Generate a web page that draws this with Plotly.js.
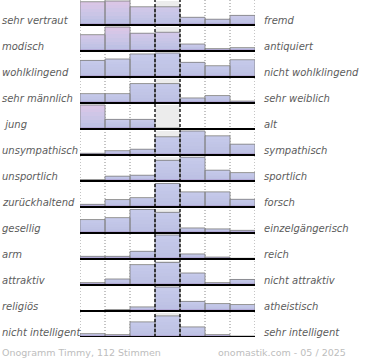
<!DOCTYPE html>
<html><head><meta charset="utf-8">
<script src="https://cdn.plot.ly/plotly-3.0.1.min.js"></script>
<style>html,body{margin:0;padding:0;background:#fff}#chart{width:370px;height:360px}</style>
</head><body><div id="chart"></div>
<script>
// scale positions (7 columns)
const columns = [0, 1, 2, 3, 4, 5, 6];
const leftLabels = ["sehr vertraut","modisch","wohlklingend","sehr männlich","\u00a0jung","unsympathisch","unsportlich","zurückhaltend","gesellig","arm","attraktiv","religiös","nicht intelligent"];
const rightLabels = ["fremd","antiquiert","nicht wohlklingend","sehr weiblich","alt","sympathisch","sportlich","forsch","einzelgängerisch","reich","nicht attraktiv","atheistisch","sehr intelligent"];
// bar heights, percent of the row box
const sehrVertraut     = [97,100,76,76,32,24,40];
const modisch          = [68,100,74,78,29,10,14];
const wohlklingend     = [69,75,96,100,61,47,72];
const sehrMaennlich    = [39,39,81,81,21,31,8];
const jung             = [100,40,40,4,0,0,0];
const unsympathisch    = [7,18,24,76,100,80,45];
const unsportlich      = [6,20,24,86,99,45,35];
const zurueckhaltend   = [11,31,39,98,63,63,32];
const gesellig         = [56,64,98,86,21,17,11];
const arm              = [11,11,32,100,21,8,3];
const attraktiv        = [10,25,85,94,50,10,23];
const religioes        = [0,6,17,100,40,31,27];
const nichtIntelligent = [14,10,63,88,42,10,4];
const rows = [sehrVertraut,modisch,wohlklingend,sehrMaennlich,jung,unsympathisch,unsportlich,zurueckhaltend,gesellig,arm,attraktiv,religioes,nichtIntelligent];
const footerLeft = "Onogramm Timmy, 112 Stimmen";
const footerRight = "onomastik.com - 05 / 2025";

// styling: pink tint of the bar tops
const pinkTint = [
 [1,1,0.6,0.5,0.2,0.1,0.2],
 [0.7,1,0.6,0.6,0.2,0.1,0.1],
 [0,0,0,0,0,0,0],[0,0,0,0,0,0,0],
 [1,0.1,0.1,0,0,0,0],
 [0,0,0,0,0,0,0],[0,0,0,0,0,0,0],[0,0,0,0,0,0,0],[0,0,0,0,0,0,0],
 [0,0,0,0,0,0,0],[0,0,0,0,0,0,0],[0,0,0,0,0,0,0],[0,0,0,0,0,0,0]];

const ROW = 26, BOX = 24, N = rows.length;
const unit = BOX / ROW / 100;
const xs = [], bases = [], hs = [], tints = [];
rows.forEach((vals, k) => {
  const base = N - 1 - k;
  vals.forEach((v, c) => { xs.push(columns[c]); bases.push(base); hs.push(v * unit); tints.push(pinkTint[k][c]); });
});

function hexToArr(h) { return h.match(/\w\w/g).map(x => parseInt(x, 16)); }
function mixArr(a, b, t) { return a.map((v, i) => Math.round(v + (b[i] - v) * t)); }
const blueLo = hexToArr('bcc0e3'), blueHi = hexToArr('c7cbeb'), pink = hexToArr('dcc5e6');
const traces = [];
const s1 = 1 / ROW;
// bottom strips
[['#9f92c4', 0], ['#b2a9d6', 1]].forEach(([col, j]) => {
  traces.push({type: 'bar', x: xs, width: 1, base: bases.map((b, i) => b + Math.min(hs[i], j * s1)),
    y: hs.map(h => Math.max(0, Math.min(h - j * s1, s1))), marker: {color: col, line: {width: 0}}, hoverinfo: 'skip'});
});
const NB = 6;
for (let j = 0; j < NB; j++) {
  const f = (j + 0.5) / NB;
  const body = mixArr(blueLo, blueHi, f);
  traces.push({type: 'bar', x: xs, width: 1,
    base: bases.map((b, i) => { const r = Math.max(0, hs[i] - 2 * s1); return b + Math.min(hs[i], 2 * s1) + r * j / NB; }),
    y: hs.map(h => Math.max(0, h - 2 * s1) / NB),
    marker: {color: tints.map(t => 'rgb(' + mixArr(body, pink, t * Math.pow(f, 1.3)).join(',') + ')'), line: {width: 0}},
    hoverinfo: 'skip'});
}
// outlines
traces.push({type: 'bar', x: xs, width: 1, base: bases, y: hs, marker: {color: 'rgba(0,0,0,0)', line: {width: 1, color: 'rgba(130,130,130,0.85)'}}, hoverinfo: 'skip'});

const shapes = [];
for (let k = 0; k < N; k++) {
  const base = N - 1 - k;
  shapes.push({type: 'rect', xref: 'x', yref: 'y', x0: 2.5, x1: 3.5, y0: base, y1: base + BOX / ROW, fillcolor: '#ececec', line: {width: 0}, layer: 'below'});
}
[-0.5, 0.5, 1.5, 4.5, 5.5, 6.5].forEach(x => shapes.push({type: 'line', xref: 'x', yref: 'paper', x0: x, x1: x, y0: 0, y1: 1, line: {color: '#8a8a8a', width: 1, dash: '1px,2px'}, layer: 'below'}));
[2.5, 3.5].forEach(x => shapes.push({type: 'line', xref: 'x', yref: 'paper', x0: x, x1: x, y0: 0, y1: 1, line: {color: '#000', width: 1.3, dash: '3px,2px'}, layer: 'above'}));
for (let k = 0; k < N; k++) {
  const base = N - 1 - k;
  shapes.push({type: 'line', xref: 'x', yref: 'y', x0: -0.5, x1: 6.55, y0: base, y1: base, line: {color: '#000', width: 2}, layer: 'above'});
}

const annotations = [];
const lblFont = {family: 'DejaVu Sans', size: 10, color: '#5c5c5c', style: 'italic'};
rows.forEach((v, k) => {
  const base = N - 1 - k;
  annotations.push({xref: 'paper', yref: 'y', x: -80.5 / 175, y: base + 5 / ROW, xanchor: 'left', yanchor: 'middle', text: leftLabels[k], showarrow: false, font: lblFont});
  annotations.push({xref: 'paper', yref: 'y', x: 181.5 / 175, y: base + 5 / ROW, xanchor: 'left', yanchor: 'middle', text: rightLabels[k], showarrow: false, font: lblFont});
});
const ftFont = {family: 'DejaVu Sans', size: 9.5, color: '#bdbdbd'};
annotations.push({xref: 'paper', yref: 'paper', x: -80 / 175, y: -15 / 337, xanchor: 'left', yanchor: 'middle', text: footerLeft, showarrow: false, font: ftFont});
annotations.push({xref: 'paper', yref: 'paper', x: 268 / 175, y: -15 / 337, xanchor: 'right', yanchor: 'middle', text: footerRight, showarrow: false, font: ftFont});

const layout = {
  width: 370, height: 360, margin: {l: 80, r: 115, t: 0, b: 23, pad: 0},
  paper_bgcolor: '#fff', plot_bgcolor: 'rgba(0,0,0,0)', showlegend: false,
  barmode: 'overlay', bargap: 0,
  xaxis: {range: [-0.5, 6.5], showgrid: false, zeroline: false, showline: false, showticklabels: false, ticks: '', fixedrange: true},
  yaxis: {range: [0, 337 / ROW], showgrid: false, zeroline: false, showline: false, showticklabels: false, ticks: '', fixedrange: true},
  shapes: shapes, annotations: annotations
};
Plotly.newPlot('chart', traces, layout, {displayModeBar: false, staticPlot: true});
</script></body></html>
